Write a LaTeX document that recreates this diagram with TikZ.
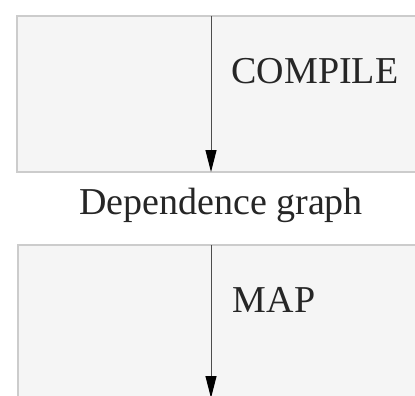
\documentclass[tikz,border=0pt]{standalone}
\usepackage{fontspec}
\setmainfont{Liberation Serif}
\usetikzlibrary{arrows.meta}
\begin{document}
\begin{tikzpicture}[x=1pt,y=-1pt,
  panel/.style={draw=gray!40,line width=1.5pt,fill=gray!8},
  lbl/.style={font=\fontsize{38}{40}\selectfont,text=black!85,inner sep=0pt,anchor=base},
  flow/.style={draw=black!70,line width=1pt,-{Triangle[length=22pt,width=11pt,black]}}]
\useasboundingbox (0,0) rectangle (415,396);
\fill[white] (0,0) rectangle (415,396);
\draw[panel] (17,16) rectangle (425,172);
\draw[panel] (18,245) rectangle (425,410);
\coordinate (c1s) at (211,16);
\coordinate (c1e) at (211,172);
\coordinate (c2s) at (211,245);
\coordinate (c2e) at (211,398);
\node[lbl] (compile) at (315,83) {COMPILE};
\node[lbl] (dep) at (221,214) {Dependence graph};
\node[lbl] (map) at (274,312) {MAP};
\draw[flow] (c1s) -- (c1e);
\draw[flow] (c2s) -- (c2e);
\end{tikzpicture}
\end{document}
